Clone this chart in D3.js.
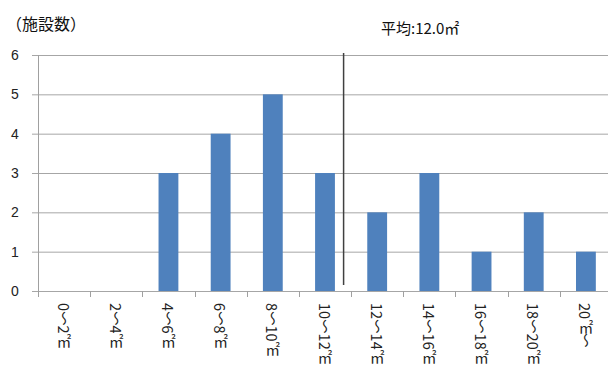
<!DOCTYPE html>
<html>
<head>
<meta charset="utf-8">
<script src="https://cdn.jsdelivr.net/npm/d3@7"></script>
<style>
  body { margin: 0; background: #fff; }
  svg text { font-family: "Liberation Sans", "Noto Sans CJK JP", sans-serif; }
</style>
</head>
<body>
<div id="chart"></div>
<script>
const categories = ["0〜2㎡", "2〜4㎡", "4〜6㎡", "6〜8㎡", "8〜10㎡", "10〜12㎡",
    "12〜14㎡", "14〜16㎡", "16〜18㎡", "18〜20㎡", "20㎡〜"];
const counts = [0, 0, 3, 4, 5, 3, 2, 3, 1, 2, 1];
const yTicks = [0, 1, 2, 3, 4, 5, 6];
const meanValue = 12.0;
const yTitle = "（施設数）";
const meanLabel = "平均:12.0㎡";

const wd = 608,
    ht = 367;

const svg = d3.select("#chart")
    .append("svg")
    .attr("width", wd)
    .attr("height", ht)

const mLeft = 38, mRight = 612, mTop = 55, mBottom = 291;

var x = d3.scaleBand()
    .domain(categories)
    .range([mLeft, mRight])
    .paddingInner(0.62)
    .paddingOuter(0.31)

// continuous scale over the same span, in ㎡
var xm = d3.scaleLinear()
    .domain([0, 22])
    .range([mLeft, mRight])

var y = d3.scaleLinear()
    .domain([0, 6])
    .range([mBottom, mTop])

// gridlines
svg.append("g")
    .selectAll("line")
    .data(yTicks)
    .enter()
    .append("line")
    .attr("x1", mLeft - 6)
    .attr("x2", wd)
    .attr("y1", d => y(d) + 0.5)
    .attr("y2", d => y(d) + 0.5)
    .attr("stroke", "#a6a6a6")
    .attr("stroke-width", 1)

// y labels
svg.append("g")
    .selectAll("text")
    .data(yTicks)
    .enter()
    .append("text")
    .attr("x", 15)
    .attr("y", d => y(d) + 5)
    .attr("text-anchor", "middle")
    .attr("font-size", 14)
    .attr("fill", "#222")
    .text(d => d)

// bars
svg.selectAll("rect").data(counts)
    .enter()
    .append("rect")
    .attr("x", (d, i) => x(categories[i]))
    .attr("width", x.bandwidth())
    .attr("y", d => y(d))
    .attr("height", d => mBottom - y(d))
    .attr("fill", "#4f81bd")

// y axis line
svg.append("line")
    .attr("x1", mLeft + 0.5).attr("x2", mLeft + 0.5)
    .attr("y1", mTop).attr("y2", mBottom + 5)
    .attr("stroke", "#a0a0a0")

// x ticks at band boundaries
var step = x.step()
svg.append("g")
    .selectAll("line")
    .data(categories)
    .enter()
    .append("line")
    .attr("x1", d => Math.round(x(d) - x.paddingOuter() * step) + 0.5)
    .attr("x2", d => Math.round(x(d) - x.paddingOuter() * step) + 0.5)
    .attr("y1", mBottom)
    .attr("y2", mBottom + 6)
    .attr("stroke", "#a0a0a0")

// x labels, vertical
svg.append("g")
    .selectAll("text")
    .data(categories)
    .enter()
    .append("text")
    .attr("x", d => x(d) + x.bandwidth() / 2)
    .attr("y", 303)
    .attr("font-size", 14.5)
    .attr("fill", "#222")
    .style("writing-mode", "vertical-rl")
    .style("font-family", "'Noto Sans CJK JP', sans-serif")
    .text(d => d)

// mean line
svg.append("line")
    .attr("x1", xm(meanValue) - 8 + 0.5)
    .attr("x2", xm(meanValue) - 8 + 0.5)
    .attr("y1", 53)
    .attr("y2", 285)
    .attr("stroke", "#404040")
    .attr("stroke-width", 1.5)

svg.append("text")
    .attr("x", 381)
    .attr("y", 34)
    .attr("font-size", 15)
    .attr("fill", "#111")
    .style("font-family", "'Noto Sans CJK JP', sans-serif")
    .text(meanLabel)

svg.append("text")
    .attr("x", 6)
    .attr("y", 30)
    .attr("font-size", 16)
    .attr("fill", "#111")
    .style("font-family", "'Noto Sans CJK JP', sans-serif")
    .text(yTitle)
</script>
</body>
</html>
